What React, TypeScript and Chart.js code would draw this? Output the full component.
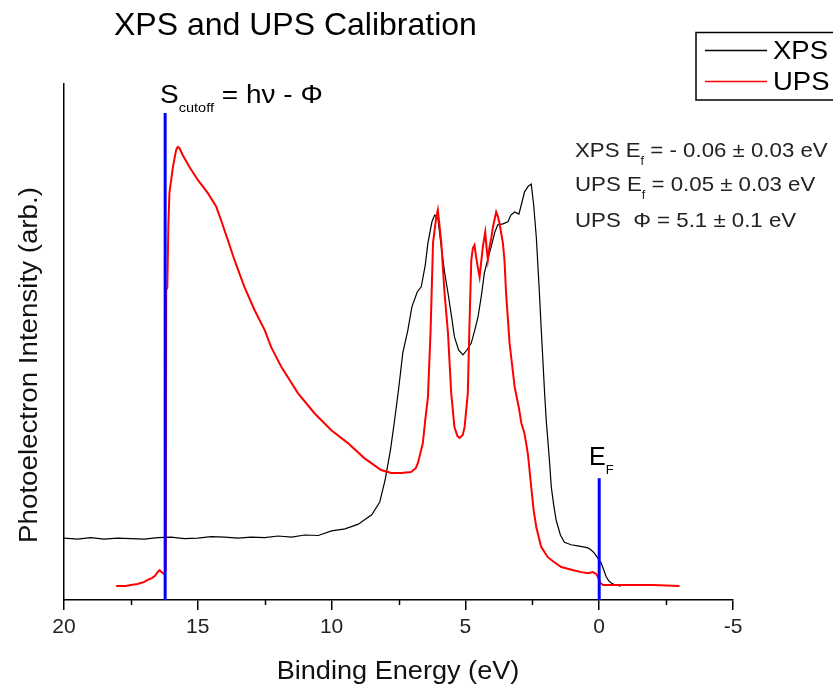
import React, { useEffect, useRef } from "react";
import { Chart, registerables } from "chart.js";

Chart.register(...registerables);

// Binding energy (eV) and intensity (arb.) — XPS spectrum
const xpsEnergy = [
  20.0, 19.5, 19.0, 18.5, 18.0, 17.5, 17.0, 16.5, 16.0, 15.5, 15.0, 14.5, 14.0, 13.5, 13.0, 12.5,
  12.0, 11.5, 11.0, 10.5, 10.0, 9.5, 9.0, 8.78, 8.5, 8.2, 8.0, 7.8, 7.66, 7.5, 7.34, 7.15, 7.0,
  6.8, 6.65, 6.5, 6.4, 6.25, 6.15, 6.03, 5.9, 5.78, 5.65, 5.5, 5.41, 5.25, 5.09, 4.95, 4.78, 4.65,
  4.53, 4.4, 4.29, 4.15, 4.04, 3.9, 3.79, 3.6, 3.41, 3.3, 3.16, 3.0, 2.91, 2.79, 2.65, 2.54, 2.45,
  2.35, 2.25, 2.17, 2.04, 1.98, 1.86, 1.79, 1.7, 1.61, 1.45, 1.3, 1.05, 0.8, 0.6, 0.42, 0.3, 0.18,
  0.05, -0.07, -0.17, -0.26, -0.36, -0.45, -0.6, -0.8,
];
const xpsIntensity = [
  12.0, 11.8, 12.1, 11.8, 12.0, 11.9, 11.8, 12.1, 12.2, 11.9, 12.0, 12.3, 12.2, 12.0, 12.2, 12.1,
  12.4, 12.2, 12.6, 12.5, 13.4, 13.8, 14.7, 15.5, 16.5, 19.0, 23.3, 29.1, 34.3, 40.7, 47.9, 52.3, 56.8,
  59.7, 60.7, 64.9, 69.2, 73.3, 74.6, 74.0, 68.4, 63.6, 59.5, 54.3, 51.0, 48.4, 47.5, 48.4, 49.8, 52.3,
  54.8, 59.1, 63.4, 66.3, 68.4, 71.3, 72.7, 72.9, 73.3, 74.6, 75.2, 74.8, 76.6, 79.1, 80.2, 80.6, 76.6,
  70.3, 61.0, 52.9, 40.1, 34.9, 27.1, 21.9, 18.4, 15.5, 12.6, 11.2, 10.7, 10.5, 10.3, 10.1, 9.7, 9.1,
  8.1, 7.2, 5.8, 4.5, 3.7, 3.3, 2.9, 2.7,
];

// UPS spectrum
const upsEnergy = [
  18.05, 17.7, 17.5, 17.25, 17.0, 16.87, 16.7, 16.6, 16.5, 16.43, 16.35, 16.25, 16.2, 16.18, 16.14,
  16.1, 16.06, 15.93, 15.81, 15.75, 15.69, 15.56, 15.31, 15.0, 14.63, 14.31, 14.13, 13.88, 13.63,
  13.26, 12.88, 12.5, 12.26, 11.88, 11.26, 10.64, 10.01, 9.39, 8.78, 8.15, 7.77, 7.4, 7.03, 6.85,
  6.77, 6.59, 6.5, 6.4, 6.3, 6.21, 6.09, 6.03, 5.9, 5.78, 5.65, 5.53, 5.41, 5.3, 5.22, 5.1, 5.03,
  4.91, 4.85, 4.78, 4.72, 4.66, 4.6, 4.53, 4.47, 4.41, 4.35, 4.26, 4.2, 4.16, 4.1, 4.03, 3.97, 3.85,
  3.79, 3.73, 3.6, 3.54, 3.48, 3.41, 3.35, 3.16, 3.0, 2.91, 2.8, 2.73, 2.66, 2.54, 2.45, 2.35, 2.17,
  1.92, 1.7, 1.42, 1.0, 0.67, 0.4, 0.24, 0.1, 0.05, -0.04, -0.15, -0.32, -1.0, -2.0, -3.0,
];
const upsIntensity = [
  2.7, 2.7, 2.9, 3.1, 3.5, 3.9, 4.3, 4.7, 5.4, 5.8, 5.4, 5.0, 5.8, 60.1, 60.5,
  72.7, 78.9, 83.9, 87.2, 87.8, 87.6, 86.2, 83.9, 81.4, 78.9, 76.2, 73.6, 69.8, 65.9,
  60.7, 56.2, 52.3, 49.0, 45.2, 40.1, 36.2, 32.9, 30.4, 27.5, 25.2, 24.6, 24.6, 24.8, 25.6,
  26.6, 30.4, 34.9, 39.3, 52.3, 69.2, 74.2, 75.6, 69.2, 59.5, 51.7, 40.1, 33.5, 31.8, 31.4, 32.0, 33.5,
  40.1, 52.9, 65.9, 68.2, 68.8, 66.5, 64.3, 62.6, 65.5, 68.4, 71.3, 67.8, 65.9, 68.4, 70.2, 72.3, 75.2,
  74.4, 73.1, 69.2, 65.9, 59.5, 54.3, 49.8, 41.3, 37.2, 34.3, 32.4, 30.4, 28.1, 21.9, 17.4, 14.1, 10.3,
  8.3, 7.4, 6.4, 5.8, 5.4, 5.2, 5.4, 5.0, 4.5, 3.3, 2.9, 2.9, 2.9, 2.9, 2.7,
];

// Reference markers
const cutoffEnergy = 16.22;
const cutoffTop = 94.4;
const fermiEnergy = 0;
const fermiTop = 23.6;

const xTicks = [20, 15, 10, 5, 0, -5];
const xMinorTicks = [17.5, 12.5, 7.5, 2.5, -2.5];

const titleText = "XPS and UPS Calibration";
const xTitle = "Binding Energy (eV)";
const yTitle = "Photoelectron Intensity (arb.)";
const legendLabels = ["XPS", "UPS"];

const FONT = '"Liberation Sans", Arial, sans-serif';

function toPoints(xs: number[], ys: number[]) {
  return xs.map((x, i) => ({ x, y: ys[i] }));
}

function drawRich(
  ctx: CanvasRenderingContext2D,
  x: number,
  y: number,
  parts: [string, number, number][],
  hscale = 1
) {
  ctx.save();
  ctx.translate(x, y);
  ctx.scale(hscale, 1);
  let cx = 0;
  for (const [t, size, dy] of parts) {
    ctx.font = `${size}px ${FONT}`;
    ctx.fillText(t, cx, dy);
    cx += ctx.measureText(t).width;
  }
  ctx.restore();
}

const decorPlugin = {
  id: "decor",
  afterDraw(chart: any) {
    const ctx: CanvasRenderingContext2D = chart.ctx;
    const xs = chart.scales.x;
    const area = chart.chartArea;
    ctx.save();
    // minor ticks
    ctx.strokeStyle = "#000";
    ctx.lineWidth = 1.5;
    for (const v of xMinorTicks) {
      const px = Math.round(xs.getPixelForValue(v)) + 0.5;
      ctx.beginPath();
      ctx.moveTo(px, area.bottom);
      ctx.lineTo(px, area.bottom + 5);
      ctx.stroke();
    }
    ctx.fillStyle = "#000";
    ctx.textBaseline = "alphabetic";
    ctx.textAlign = "left";
    // title
    ctx.font = `32px ${FONT}`;
    ctx.fillText(titleText, 114, 35);
    // x title
    ctx.fillStyle = "#111";
    ctx.save();
    ctx.translate(398, 679);
    ctx.scale(1.043, 1);
    ctx.font = `26px ${FONT}`;
    ctx.textAlign = "center";
    ctx.fillText(xTitle, 0, 0);
    ctx.restore();
    // y title
    ctx.save();
    ctx.translate(30, 365);
    ctx.rotate(-Math.PI / 2);
    ctx.scale(1.066, 1);
    ctx.font = `26px ${FONT}`;
    ctx.textAlign = "center";
    ctx.textBaseline = "middle";
    ctx.fillText(yTitle, 0, 0);
    ctx.restore();
    ctx.textAlign = "left";
    ctx.fillStyle = "#000";
    // legend
    ctx.lineWidth = 1.5;
    ctx.strokeStyle = "#000";
    ctx.strokeRect(696, 32.5, 160, 67.5);
    ctx.beginPath();
    ctx.moveTo(705, 50.5);
    ctx.lineTo(767, 50.5);
    ctx.stroke();
    ctx.strokeStyle = "#ff0000";
    ctx.beginPath();
    ctx.moveTo(705, 81.5);
    ctx.lineTo(767, 81.5);
    ctx.stroke();
    drawRich(ctx, 773, 58.5, [[legendLabels[0], 25, 0]], 1.1);
    drawRich(ctx, 773, 90, [[legendLabels[1], 25, 0]], 1.1);
    // annotations
    ctx.fillStyle = "#222";
    drawRich(
      ctx,
      575,
      157,
      [
        ["XPS E", 21, 0],
        ["f", 12, 8],
        [" = - 0.06 \u00b1 0.03 eV", 21, 0],
      ],
      1.06
    );
    drawRich(
      ctx,
      575,
      190.5,
      [
        ["UPS E", 21, 0],
        ["f", 12, 8],
        [" = 0.05 \u00b1 0.03 eV", 21, 0],
      ],
      1.06
    );
    drawRich(ctx, 575, 226.5, [["UPS  \u03a6 = 5.1 \u00b1 0.1 eV", 21, 0]], 1.06);
    ctx.fillStyle = "#000";
    drawRich(
      ctx,
      160,
      103,
      [
        ["S", 25, 0],
        ["cutoff", 13, 9],
        [" = h\u03bd - \u03a6", 25, 0],
      ],
      1.12
    );
    drawRich(ctx, 589, 465, [
      ["E", 25, 0],
      ["F", 13, 9],
    ]);
    ctx.restore();
  },
};

export default function App() {
  const ref = useRef<HTMLCanvasElement>(null);
  useEffect(() => {
    document.body.style.margin = "0";
    const canvas = ref.current!;
    const chart = new Chart(canvas, {
      type: "line",
      data: {
        datasets: [
          {
            label: "cutoff",
            data: [
              { x: cutoffEnergy, y: 0 },
              { x: cutoffEnergy, y: cutoffTop },
            ],
            borderColor: "#0000ff",
            borderWidth: 3,
            pointRadius: 0,
          },
          {
            label: "EF",
            data: [
              { x: fermiEnergy, y: 0 },
              { x: fermiEnergy, y: fermiTop },
            ],
            borderColor: "#0000ff",
            borderWidth: 3,
            pointRadius: 0,
          },
          {
            label: legendLabels[1],
            data: toPoints(upsEnergy, upsIntensity),
            borderColor: "#ff0000",
            borderWidth: 2,
            pointRadius: 0,
          },
          {
            label: legendLabels[0],
            data: toPoints(xpsEnergy, xpsIntensity),
            borderColor: "#000000",
            borderWidth: 1.2,
            pointRadius: 0,
          },
        ],
      },
      options: {
        animation: false,
        responsive: false,
        devicePixelRatio: 1,
        layout: { padding: { top: 84, right: 100, left: 0, bottom: 0 } },
        plugins: { legend: { display: false }, tooltip: { enabled: false }, title: { display: false } },
        scales: {
          x: {
            type: "linear",
            reverse: true,
            min: -5,
            max: 20,
            afterFit: (s: any) => {
              s.height = 90;
            },
            afterBuildTicks: (s: any) => {
              s.ticks = xTicks.map((v) => ({ value: v }));
            },
            ticks: {
              font: { size: 21, family: FONT },
              color: "#222",
              padding: 5,
              maxRotation: 0,
              autoSkip: false,
              callback: (v: any) => String(v),
            },
            grid: {
              drawOnChartArea: false,
              drawTicks: true,
              tickLength: 10,
              color: "#000",
              lineWidth: 1.5,
            },
            border: { color: "#000", width: 1.5 },
          },
          y: {
            min: 0,
            max: 100,
            afterFit: (s: any) => {
              s.width = 64;
            },
            ticks: { display: false },
            grid: { display: false },
            border: { color: "#000", width: 1.5 },
          },
        },
      } as any,
      plugins: [decorPlugin],
    });
    return () => chart.destroy();
  }, []);
  return (
    <div style={{ width: 833, height: 690, background: "#fff" }}>
      <canvas ref={ref} width={833} height={690} />
    </div>
  );
}
